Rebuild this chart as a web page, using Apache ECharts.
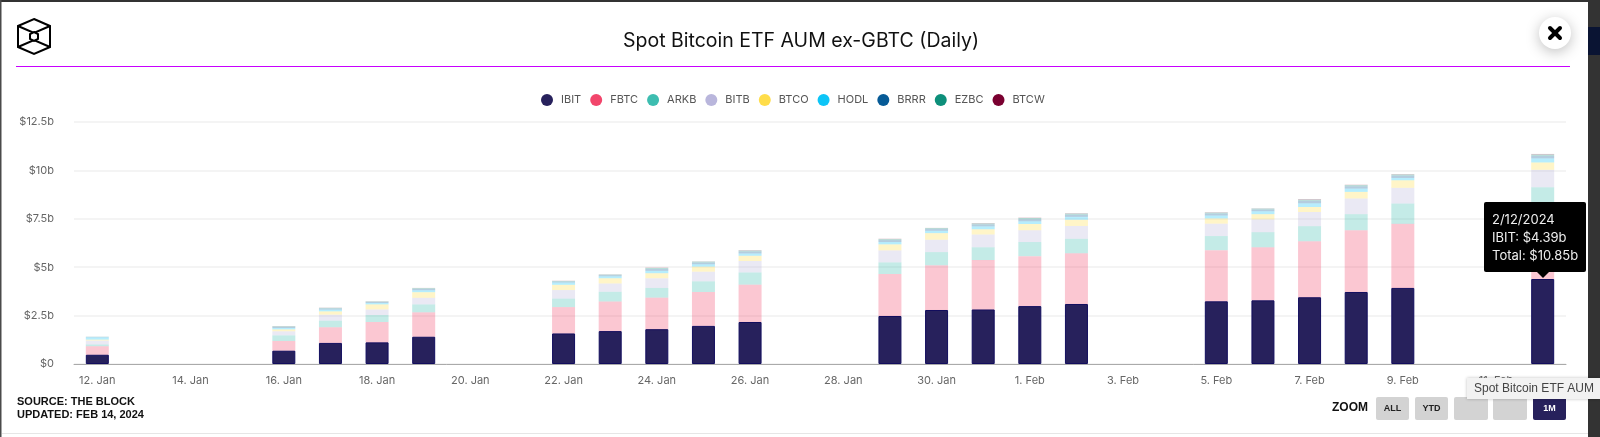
<!DOCTYPE html>
<html>
<head>
<meta charset="utf-8">
<title>Spot Bitcoin ETF AUM ex-GBTC (Daily)</title>
<script src="https://cdn.jsdelivr.net/npm/echarts@6/dist/echarts.min.js"></script>
<style>
  html, body { margin: 0; padding: 0; background: #fff; overflow: hidden; }
  #chart { width: 1600px; height: 437px; }
</style>
</head>
<body>
<div id="chart"></div>
<script>
let dates = [
  "12. Jan","13. Jan","14. Jan","15. Jan","16. Jan","17. Jan","18. Jan","19. Jan","20. Jan","21. Jan",
  "22. Jan","23. Jan","24. Jan","25. Jan","26. Jan","27. Jan","28. Jan","29. Jan","30. Jan","31. Jan",
  "1. Feb","2. Feb","3. Feb","4. Feb","5. Feb","6. Feb","7. Feb","8. Feb","9. Feb","10. Feb","11. Feb","12. Feb",
];

// values in $b, weekends and the 15 Jan holiday have no bar
let ibit = [0.48,null,null,null,0.69,1.09,1.12,1.41,null,null,1.58,1.70,1.80,1.97,2.17,null,null,2.48,2.79,2.82,2.99,3.10,null,null,3.24,3.29,3.45,3.72,3.93,null,null,4.39];
let fbtc = [0.44,null,null,null,0.50,0.81,1.05,1.26,null,null,1.36,1.53,1.63,1.75,1.93,null,null,2.17,2.31,2.55,2.58,2.62,null,null,2.64,2.74,2.89,3.19,3.31,null,null,3.52];
let arkb = [0.09,null,null,null,0.29,0.34,0.36,0.41,null,null,0.44,0.50,0.50,0.55,0.63,null,null,0.60,0.68,0.66,0.73,0.75,null,null,0.73,0.78,0.78,0.83,1.05,null,null,1.22];
let bitb = [0.20,null,null,null,0.21,0.31,0.29,0.34,null,null,0.44,0.43,0.50,0.50,0.59,null,null,0.62,0.64,0.66,0.61,0.66,null,null,0.64,0.66,0.73,0.81,0.81,null,null,0.90];
let btco = [0.05,null,null,null,0.10,0.17,0.26,0.29,null,null,0.27,0.27,0.26,0.26,0.27,null,null,0.31,0.34,0.27,0.32,0.32,null,null,0.27,0.27,0.26,0.34,0.39,null,null,0.38];
let hodl = [0.12,null,null,null,0.07,0.09,0.07,0.10,null,null,0.12,0.10,0.12,0.12,0.12,null,null,0.12,0.12,0.15,0.14,0.15,null,null,0.15,0.15,0.19,0.17,0.12,null,null,0.21];
let brrr = [0.02,null,null,null,0.06,0.06,0.05,0.07,null,null,0.05,0.06,0.10,0.09,0.10,null,null,0.10,0.09,0.10,0.11,0.11,null,null,0.10,0.09,0.13,0.12,0.12,null,null,0.13];
let ezbc = [0.01,null,null,null,0.03,0.03,0.03,0.04,null,null,0.03,0.03,0.05,0.05,0.05,null,null,0.05,0.05,0.05,0.06,0.06,null,null,0.05,0.05,0.06,0.06,0.06,null,null,0.07];
let btcw = [0,null,null,null,0.01,0.01,0.01,0.01,null,null,0.01,0.01,0.02,0.01,0.02,null,null,0.02,0.01,0.02,0.02,0.02,null,null,0.02,0.01,0.03,0.02,0.02,null,null,0.03];

let names = ["IBIT","FBTC","ARKB","BITB","BTCO","HODL","BRRR","EZBC","BTCW"];
let colors = ["#27215c","#f2456b","#3dbdb0","#b9b6dc","#ffdd4a","#0dc5f7","#065a96","#0d8f7a","#7a0030"];
let values = [ibit,fbtc,arkb,bitb,btco,hodl,brrr,ezbc,btcw];

let yTicks = { 0: "$0", 2.5: "$2.5b", 5: "$5b", 7.5: "$7.5b", 10: "$10b", 12.5: "$12.5b" };
let tooltipDate = "2/12/2024";
let fontName = "Inter, 'Noto Sans', sans-serif";
let boldName = "'Liberation Sans', Arial, sans-serif";

let myChart = echarts.init(document.getElementById("chart"), null, { renderer: "canvas" });

let series = [];
for (let i = 0; i < names.length; i++) {
  series.push({
    name: names[i],
    type: "bar",
    stack: "aum",
    barWidth: 23,
    data: values[i],
    // only the hovered IBIT stays solid, everything else is dimmed
    itemStyle: i == 0
      ? { color: colors[i], borderColor: "#120d5e", borderWidth: 1 }
      : { color: colors[i], opacity: 0.3 },
  });
}

let legendData = [];
for (let i = 0; i < names.length; i++) {
  legendData.push({ name: names[i], icon: "circle", itemStyle: { color: colors[i], opacity: 1, borderWidth: 0 } });
}

let line = function (x1, y1, x2, y2, color, width) {
  return { type: "line", z: 100, shape: { x1: x1, y1: y1, x2: x2, y2: y2 }, style: { stroke: color, lineWidth: width, lineCap: "round" } };
};
let rect = function (x, y, w, h, color, r) {
  return { type: "rect", z: 90, shape: { x: x, y: y, width: w, height: h, r: r || 0 }, style: { fill: color } };
};
let text = function (x, y, str, font, color, align) {
  return { type: "text", z: 101, x: x, y: y, style: { text: str, font: font, fill: color, align: align || "left", verticalAlign: "middle" } };
};

// page furniture around the chart
let graphics = [
  rect(0, 0, 1600, 2, "#333333"),
  rect(0, 0, 1.5, 437, "#4a4a4a"),
  rect(1588, 0, 12, 437, "#333333"),
  rect(1588, 27, 12, 28, "#0a1433"),
  rect(2, 433, 1586, 1, "#e6e6e6"),
  rect(16, 66, 1554, 1, "#c800ff"),
  // logo
  { type: "polygon", z: 100, shape: { points: [[34,19],[50,26],[50,47],[34,54],[18,47],[18,26]] }, style: { fill: "none", stroke: "#000", lineWidth: 2 } },
  { type: "polyline", z: 100, shape: { points: [[18,26],[34,33],[50,26]] }, style: { fill: "none", stroke: "#000", lineWidth: 2 } },
  { type: "polyline", z: 100, shape: { points: [[18,47],[34,40],[50,47]] }, style: { fill: "none", stroke: "#000", lineWidth: 2 } },
  { type: "polygon", z: 100, shape: { points: [[34,32],[38,34],[38,39],[34,41],[30,39],[30,34]] }, style: { fill: "#fff", stroke: "#000", lineWidth: 2 } },
  // close button
  { type: "circle", z: 100, shape: { cx: 1555, cy: 33, r: 16 }, style: { fill: "#fff", shadowBlur: 14, shadowOffsetY: 3, shadowColor: "rgba(0,0,0,0.25)" } },
  line(1550, 28, 1560, 38, "#000", 4),
  line(1560, 28, 1550, 38, "#000", 4),
  // source
  text(17, 402, "SOURCE: THE BLOCK", "bold 11px " + boldName, "#111"),
  text(17, 415, "UPDATED: FEB 14, 2024", "bold 11px " + boldName, "#111"),
  // zoom buttons
  text(1332, 408, "ZOOM", "bold 12px " + boldName, "#111"),
  rect(1376, 397, 33, 23, "#d3d3d3", 2),
  rect(1415, 397, 33, 23, "#d3d3d3", 2),
  rect(1454, 397, 34, 23, "#d3d3d3", 2),
  rect(1493, 397, 34, 23, "#d3d3d3", 2),
  rect(1533, 397, 33, 23, "#27215c", 2),
  text(1392.5, 409, "ALL", "bold 9px " + boldName, "#222", "center"),
  text(1431.5, 409, "YTD", "bold 9px " + boldName, "#222", "center"),
  text(1549.5, 409, "1M", "bold 9px " + boldName, "#fff", "center"),
  // browser hover hint
  { type: "rect", z: 95, shape: { x: 1467, y: 378, width: 133, height: 21 }, style: { fill: "#f2f2f2", shadowBlur: 3, shadowColor: "rgba(0,0,0,0.25)" } },
  text(1474, 389, "Spot Bitcoin ETF AUM", "12px 'Liberation Sans', Arial, sans-serif", "#444"),
];

let option = {
  animation: false,
  textStyle: { fontFamily: fontName },
  title: {
    text: "Spot Bitcoin ETF AUM ex-GBTC (Daily)",
    left: 618,
    top: 26,
    textStyle: { fontFamily: fontName, fontWeight: "normal", fontSize: 19.5, color: "#111" },
  },
  legend: {
    data: legendData,
    left: 536,
    top: 89,
    itemWidth: 12,
    itemHeight: 12,
    itemGap: 9,
    selectedMode: false,
    textStyle: { fontFamily: fontName, fontSize: 11, color: "#555", padding: [0, 0, 0, 3] },
  },
  grid: { left: 74, right: 34, top: 122, bottom: 73 },
  tooltip: {
    trigger: "item",
    alwaysShowContent: true,
    transitionDuration: 0,
    backgroundColor: "#000",
    borderWidth: 0,
    padding: [8, 8],
    extraCssText: "border-radius:2px;box-shadow:none;overflow:visible;width:86px;",
    textStyle: { color: "#eee", fontFamily: fontName, fontSize: 13 },
    position: function () {
      return [1484, 202];
    },
    formatter: function (p) {
      let total = 0;
      for (let s of values) total += s[p.dataIndex] || 0;
      return '<div style="line-height:18px">' + tooltipDate + "<br>" + p.seriesName + ": $" + p.value.toFixed(2) + "b<br>Total: $" + total.toFixed(2) + "b</div>"
        + '<div style="position:absolute;left:53px;bottom:-6px;width:0;height:0;border-left:6px solid transparent;border-right:6px solid transparent;border-top:6px solid #000"></div>';
    },
  },
  xAxis: {
    type: "category",
    data: dates,
    axisTick: { show: false },
    axisLine: { lineStyle: { color: "#aaaaaa", width: 1 } },
    axisLabel: { interval: 1, margin: 11, fontSize: 11, color: "#666", fontFamily: fontName, hideOverlap: false },
  },
  yAxis: {
    type: "value",
    min: 0,
    max: 12.5,
    interval: 2.5,
    axisLine: { show: false },
    axisTick: { show: false },
    splitLine: { lineStyle: { color: "#f1f1f1", width: 1.5 } },
    axisLabel: {
      margin: 20,
      fontSize: 11,
      color: "#666",
      fontFamily: fontName,
      formatter: function (v) { return yTicks[v]; },
    },
  },
  graphic: graphics,
  series: series,
};

myChart.setOption(option);
myChart.dispatchAction({ type: "showTip", seriesIndex: 0, dataIndex: 31 });
</script>
</body>
</html>
